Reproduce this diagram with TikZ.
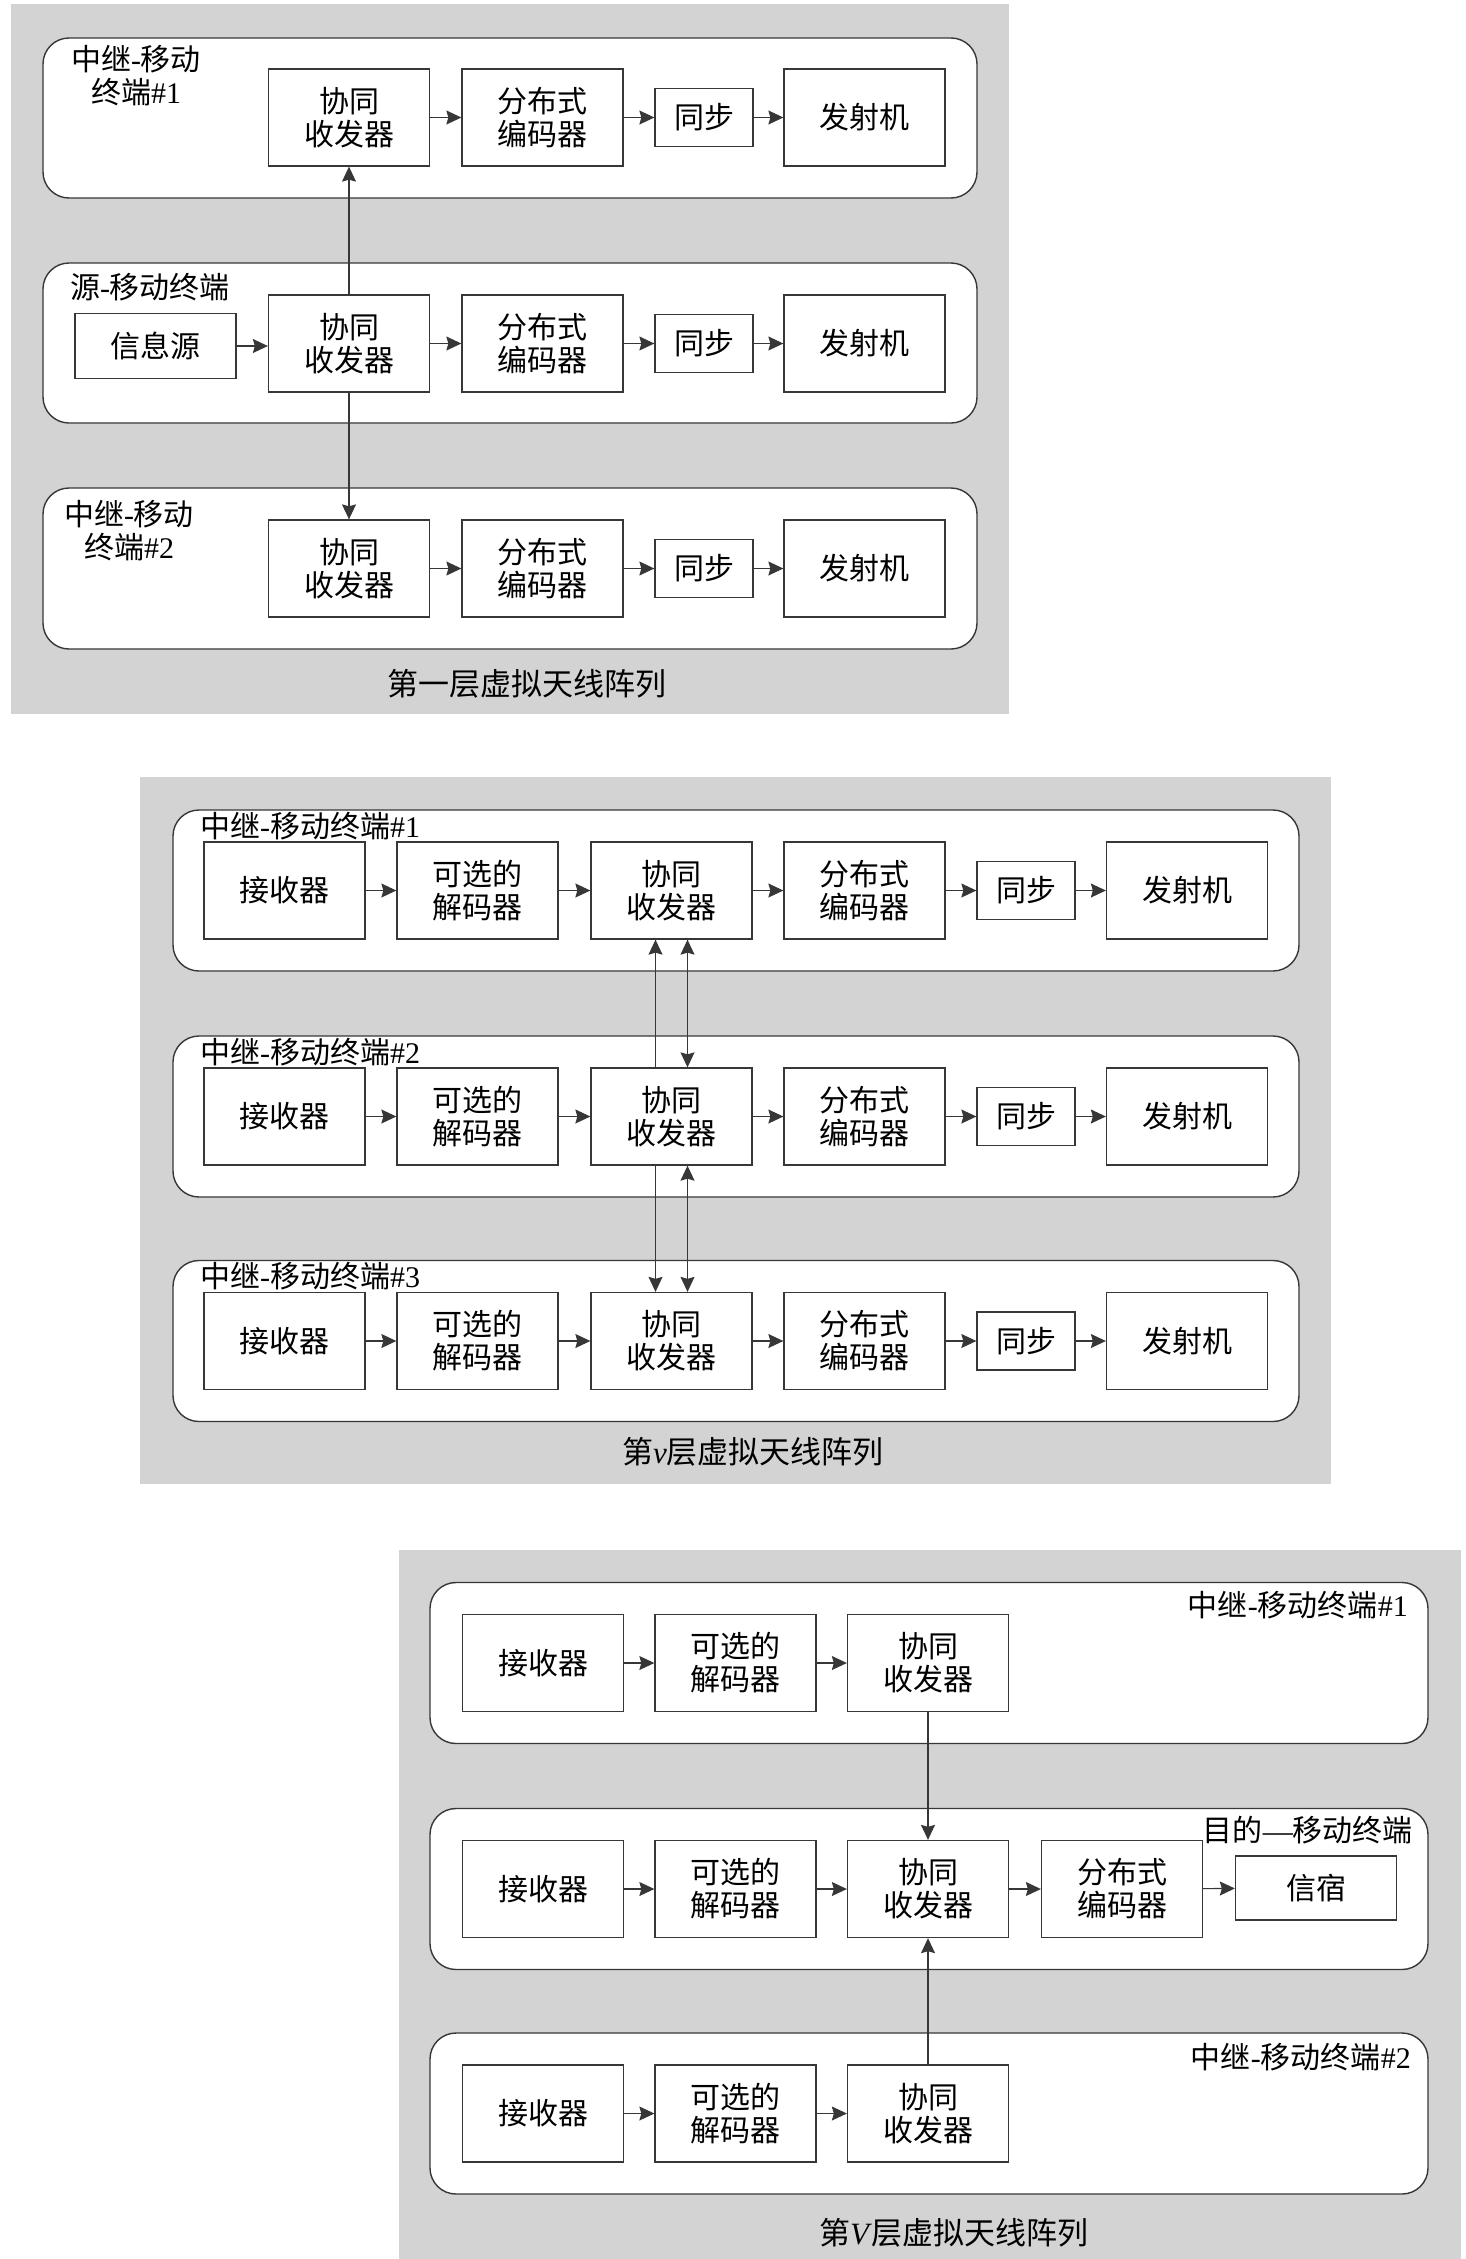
\documentclass[tikz,border=0pt]{standalone}
\usepackage{fontspec}
\setmainfont{Liberation Serif}
\newfontfamily\cjk{Noto Sans CJK SC}
\usetikzlibrary{arrows.meta}
\definecolor{panelgray}{RGB}{211,211,211}
\definecolor{linegray}{RGB}{55,55,55}
\newcommand\lt[1]{{\rmfamily #1}}
\tikzset{
  group/.style={draw=linegray, line width=1.4pt, fill=white, rounded corners=26pt},
  blk/.style={draw=linegray, line width=1.3pt, fill=white, minimum width=161pt, minimum height=97pt,
     inner sep=0pt, align=center, font=\cjk\fontsize{30}{33}\selectfont},
  syncbox/.style={blk, minimum width=98pt, minimum height=58pt},
  lbl/.style={inner sep=0pt, align=center, font=\cjk\fontsize{30}{33}\selectfont},
  ttl/.style={inner sep=0pt, font=\cjk\fontsize{31}{33}\selectfont},
  arr/.style={draw=linegray, line width=1.1pt, -{Stealth[length=15pt,width=14pt,inset=2pt]}},
  darr/.style={draw=linegray, line width=1.1pt, {Stealth[length=15pt,width=14pt,inset=2pt]}-{Stealth[length=15pt,width=14pt,inset=2pt]}}
}
\begin{document}
\begin{tikzpicture}[x=1pt,y=-1pt]
\useasboundingbox (0,0) rectangle (1465,2259);
\fill[white] (0,0) rectangle (1465,2259);
% ---------------- panel 1 ----------------
\fill[panelgray] (11,4) rectangle (1009,714);
\draw[group] (43,38) rectangle (977,198);
\draw[group] (43,263) rectangle (977,423);
\draw[group] (43,488) rectangle (977,649);
\node[lbl] (la) at (136,76) {中继\lt{-}移动\\终端\lt{\#1}};
\node[lbl] (lb) at (150,287) {源\lt{-}移动终端};
\node[lbl] (lc) at (129,531) {中继\lt{-}移动\\终端\lt{\#2}};
\foreach \r/\y in {a/117.5, b/343.5, c/568.5}{
  \node[blk] (\r2) at (349,\y) {协同\\收发器};
  \node[blk] (\r3) at (542.5,\y) {分布式\\编码器};
  \node[syncbox] (\r4) at (704,\y) {同步};
  \node[blk] (\r5) at (864.5,\y) {发射机};
  \draw[arr] (\r2) -- (\r3);
  \draw[arr] (\r3) -- (\r4);
  \draw[arr] (\r4) -- (\r5);
}
\node[blk, minimum height=65pt] (b1) at (155.5,346) {信息源};
\draw[arr] (b1.east) -- (b1.east -| b2.west);
\draw[arr] (b2.north) -- (a2.south);
\draw[arr] (b2.south) -- (c2.north);
\node[ttl] (t1) at (527,684) {第一层虚拟天线阵列};
% ---------------- panel 2 ----------------
\fill[panelgray] (140,777) rectangle (1331,1484);
\foreach \r/\y/\k in {1/890.5/1, 2/1116.5/2, 3/1341/3}{
  \draw[group] (173,\y-80.5) rectangle (1299,\y+80.5);
  \node[lbl, anchor=west] (vl\r) at (200,\y-64.5) {中继\lt{-}移动终端\lt{\#\k}};
  \node[blk] (v\r a) at (284.5,\y) {接收器};
  \node[blk] (v\r b) at (477.5,\y) {可选的\\解码器};
  \node[blk] (v\r c) at (671.5,\y) {协同\\收发器};
  \node[blk] (v\r d) at (864.5,\y) {分布式\\编码器};
  \node[syncbox] (v\r e) at (1026,\y) {同步};
  \node[blk] (v\r f) at (1187,\y) {发射机};
  \draw[arr] (v\r a) -- (v\r b);
  \draw[arr] (v\r b) -- (v\r c);
  \draw[arr] (v\r c) -- (v\r d);
  \draw[arr] (v\r d) -- (v\r e);
  \draw[arr] (v\r e) -- (v\r f);
}
\draw[arr] ([xshift=-16pt]v2c.north) -- ([xshift=-16pt]v1c.south);
\draw[darr] ([xshift=16pt]v1c.south) -- ([xshift=16pt]v2c.north);
\draw[arr] ([xshift=-16pt]v2c.south) -- ([xshift=-16pt]v3c.north);
\draw[darr] ([xshift=16pt]v2c.south) -- ([xshift=16pt]v3c.north);
\node[ttl] (t2) at (753,1452) {第\lt{\textit{v}}层虚拟天线阵列};
% ---------------- panel 3 ----------------
\fill[panelgray] (399,1550) rectangle (1461,2259);
\foreach \r/\y in {1/1663, 2/1889, 3/2113.5}{
  \draw[group] (430,\y-80.5) rectangle (1428,\y+80.5);
  \node[blk] (w\r a) at (543,\y) {接收器};
  \node[blk] (w\r b) at (735.5,\y) {可选的\\解码器};
  \node[blk] (w\r c) at (928,\y) {协同\\收发器};
  \draw[arr] (w\r a) -- (w\r b);
  \draw[arr] (w\r b) -- (w\r c);
}
\node[lbl, anchor=east] (wl1) at (1408,1605) {中继\lt{-}移动终端\lt{\#1}};
\node[lbl, anchor=east] (wl2) at (1413,1830) {目的\lt{—}移动终端};
\node[lbl, anchor=east] (wl3) at (1411,2057) {中继\lt{-}移动终端\lt{\#2}};
\node[blk] (w2d) at (1122,1889) {分布式\\编码器};
\node[blk, minimum height=64pt] (w2e) at (1316,1888) {信宿};
\draw[arr] (w2c) -- (w2d);
\draw[arr] (w2d) -- (w2e);
\draw[arr] (w1c.south) -- (w2c.north);
\draw[arr] (w3c.north) -- (w2c.south);
\node[ttl] (t3) at (954,2233) {第\lt{\textit{V}}层虚拟天线阵列};
\end{tikzpicture}
\end{document}
